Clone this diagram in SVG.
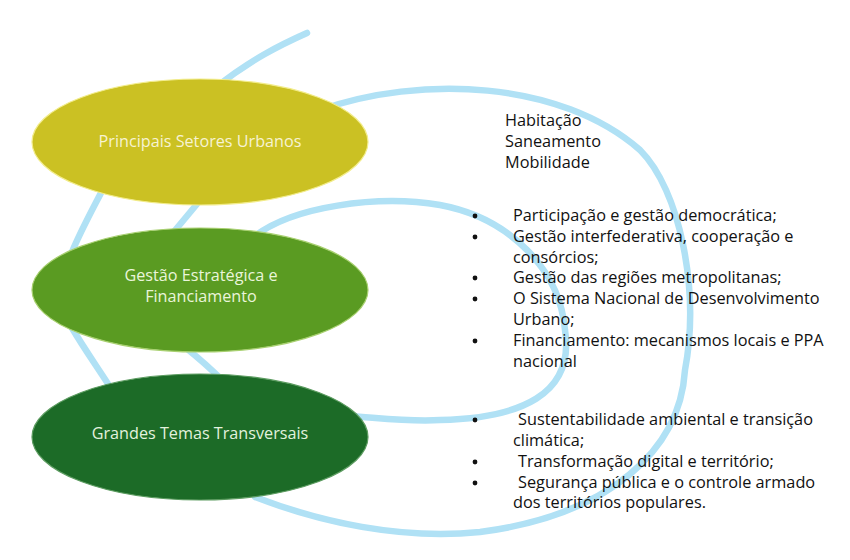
<svg xmlns="http://www.w3.org/2000/svg" width="850" height="560" viewBox="0 0 850 560">
<style>
.ln{fill:none;stroke:#B0E1F5;stroke-width:6.5;stroke-linecap:round}
.el{stroke-width:1.2}
.lbl{font-family:"Open Sans","Liberation Sans",sans-serif;font-size:16.2px;text-anchor:middle}
.tx{font-family:"Open Sans","Liberation Sans",sans-serif;font-size:16.3px;fill:#111}
</style>
<rect width="850" height="560" fill="#fff"/>
<g id="connectors">
<path class="ln" d="M307,33 C280,45 250,60 215,88"/>
<path class="ln" d="M105,185 C95,205 82,228 72,252"/>
<path class="ln" d="M202,198 C192,210 182,222 172,234"/>
<path class="ln" d="M72,328 C85,350 98,368 112,390"/>
<path class="ln" d="M186,348 C196,356 206,364 222,380"/>
<path class="ln" d="M320,110 C420,75 560,80 640,150 C680,190 700,290 685,370 C680,450 610,515 480,532 C400,540 320,522 255,497"/>
<path class="ln" d="M250,240 C290,205 380,195 440,205 C510,218 560,270 565,330 C575,395 520,418 440,420 C410,422 380,418 350,416"/>
</g>
<g id="node-setores">
<ellipse class="el" cx="200" cy="142" rx="168" ry="63" fill="#CBC123" stroke="#F2EC8A"/>
<text class="lbl" x="200" y="147" fill="#F7F3D2">Principais Setores Urbanos</text>
</g>
<g id="node-gestao">
<ellipse class="el" cx="200" cy="290" rx="168" ry="62" fill="#5A9B22" stroke="#A8D070"/>
<text class="lbl" x="201" y="281" fill="#EAF5DA">Gestão Estratégica e</text>
<text class="lbl" x="201" y="302" fill="#EAF5DA">Financiamento</text>
</g>
<g id="node-temas">
<ellipse class="el" cx="200" cy="437" rx="168" ry="63" fill="#1C6B27" stroke="#5C9C60"/>
<text class="lbl" x="200" y="439" fill="#E3F2DE">Grandes Temas Transversais</text>
</g>
<g id="list-setores">
<text class="tx" x="505" y="126">Habitação</text>
<text class="tx" x="505" y="147">Saneamento</text>
<text class="tx" x="505" y="168">Mobilidade</text>
</g>
<g id="list-gestao">
<circle cx="475" cy="216" r="2.4" fill="#111"/>
<text class="tx" x="513" y="221">Participação e gestão democrática;</text>
<circle cx="475" cy="237" r="2.4" fill="#111"/>
<text class="tx" x="513" y="242">Gestão interfederativa, cooperação e</text>
<text class="tx" x="513" y="263">consórcios;</text>
<circle cx="475" cy="278" r="2.4" fill="#111"/>
<text class="tx" x="513" y="283">Gestão das regiões metropolitanas;</text>
<circle cx="475" cy="299" r="2.4" fill="#111"/>
<text class="tx" x="513" y="304">O Sistema Nacional de Desenvolvimento</text>
<text class="tx" x="513" y="325">Urbano;</text>
<circle cx="475" cy="341" r="2.4" fill="#111"/>
<text class="tx" x="513" y="346">Financiamento: mecanismos locais e PPA</text>
<text class="tx" x="513" y="367">nacional</text>
</g>
<g id="list-temas">
<circle cx="475" cy="420" r="2.4" fill="#111"/>
<text class="tx" x="518" y="425">Sustentabilidade ambiental e transição</text>
<text class="tx" x="513" y="446">climática;</text>
<circle cx="475" cy="462" r="2.4" fill="#111"/>
<text class="tx" x="518" y="467">Transformação digital e território;</text>
<circle cx="475" cy="483" r="2.4" fill="#111"/>
<text class="tx" x="518" y="488">Segurança pública e o controle armado</text>
<text class="tx" x="513" y="508">dos territórios populares.</text>
</g>
</svg>
